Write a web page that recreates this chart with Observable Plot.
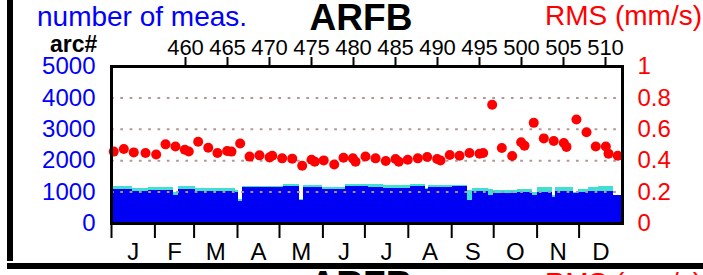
<!DOCTYPE html>
<html><head><meta charset="utf-8">
<script src="https://cdn.jsdelivr.net/npm/d3@7"></script>
<script src="https://cdn.jsdelivr.net/npm/@observablehq/plot@0.6"></script>
<style>
html,body{margin:0;padding:0;background:#fff;overflow:hidden}
#wrap{position:relative;width:703px;height:275px;overflow:hidden}
#wrap svg{position:absolute;left:0;top:0}
.bar{position:absolute;background:#000}
</style></head><body><div id="wrap"></div>
<script>
// ---- data ----
const monthLabels = ["J","F","M","A","M","J","J","A","S","O","N","D"];
const monthStarts = [0,31,59,90,120,151,181,212,243,273,304,334];
const yearDays = 365;

const arcTicks = [460,465,470,475,480,485,490,495,500,505,510];
const arcRefNumber = 460;
const arcRefDay = 52.86;
const daysPerArc = 6.0;

const countTicks = [0,1000,2000,3000,4000,5000];
const rmsTicks = [0,0.2,0.4,0.6,0.8,1];
const rmsGrid = [0.2,0.4,0.6,0.8];

// bar segments (day of year start), used count (blue), total count (turquoise)
const segStart = [0,14.8,26.6,44.5,47.6,60,88.6,90.9,93.4,123.1,134.5,137.4,150.5,167.1,183.8,194.5,213.6,224.3,226.6,243.4,254.1,257.6,269.5,273.1,289.8,300.5,304.1,314.8,317.1,330.2,333.8,340.9,348.1,358.8];
const usedCount = [1077,1013,1054,907,1077,1022,990,716,1131,1173,748,1150,1067,1173,1150,1118,1173,1067,1141,1173,725,1013,885,971,990,885,990,831,1013,971,990,1013,1013,885];
const totalCount = [1173,1118,1131,990,1173,1099,1045,750,1173,1227,780,1204,1141,1227,1227,1204,1246,1100,1204,1204,1045,1099,1077,1054,1077,990,1131,900,1141,1000,1077,1141,1182,907];

// RMS per arc
const rmsDay = [1.6,8.8,15.9,24.3,31.9,38.6,45.7,52.4,55.2,61.9,69.1,75.7,82.6,85.7,91.9,98.6,105.7,112.9,114.8,121.9,129.1,136.2,142.9,145.2,151.6,159.1,165.7,172.4,174.3,181.4,188.6,195.9,202.9,205.2,211.6,218.8,225.5,232.6,235.0,241.6,248.6,255.7,262.9,265.5,271.9,278.8,286.2,292.6,295.0,301.6,308.8,315.9,323.1,325.0,332.1,339.3,345.9,353.1,355.0,361.6];
const rmsValue = [0.458,0.475,0.453,0.449,0.440,0.504,0.491,0.470,0.459,0.521,0.483,0.449,0.462,0.458,0.509,0.426,0.434,0.421,0.432,0.415,0.413,0.368,0.406,0.394,0.402,0.376,0.419,0.415,0.394,0.427,0.415,0.398,0.411,0.394,0.406,0.415,0.424,0.411,0.402,0.436,0.432,0.449,0.445,0.449,0.756,0.481,0.430,0.517,0.496,0.641,0.542,0.526,0.513,0.488,0.662,0.581,0.491,0.491,0.445,0.432];

// ---- build ----
const countMax = 5000, rmsMax = 1, k = countMax / rmsMax;
const segs = segStart.map((s, i) => ({start: s, end: i + 1 < segStart.length ? segStart[i + 1] : yearDays, used: usedCount[i], total: totalCount[i]}));
const points = rmsDay.map((d, i) => ({day: d, rms: rmsValue[i]}));
const monthEnds = monthStarts.slice(1).concat([yearDays]);
const monthMids = monthStarts.map((s, i) => (s + monthEnds[i]) / 2);
const arcDays = arcTicks.map(a => arcRefDay + (a - arcRefNumber) * daysPerArc);

const FONT = "'Liberation Sans', Arial, Helvetica, sans-serif";

const chart = Plot.plot({
  width: 703, height: 275,
  marginTop: 66, marginBottom: 52, marginLeft: 111, marginRight: 81,
  style: {fontFamily: FONT, fontSize: "24px", background: "transparent", overflow: "visible"},
  x: {domain: [0, yearDays], label: null},
  y: {domain: [0, countMax], label: null},
  marks: [
    Plot.rect(segs, {x1: "start", x2: "end", y1: 0, y2: "total", fill: "#40e0d0", shapeRendering: "crispEdges"}),
    Plot.rect(segs, {x1: "start", x2: "end", y1: 0, y2: "used", fill: "#0000f5", shapeRendering: "crispEdges"}),
    Plot.ruleY(rmsGrid, {y: d => d * k, stroke: "#b49696", strokeWidth: 2, strokeDasharray: "2.7 6.6"}),
    Plot.dot(points, {x: "day", y: d => d.rms * k, r: 5, fill: "#ff0000", stroke: "none"}),
    Plot.frame({stroke: "#000", strokeWidth: 3}),
    Plot.axisY(countTicks, {anchor: "left", tickSize: 0, tickPadding: 16, fill: "#0000ff", fontSize: 24, label: null,
      tickFormat: d => String(d)}),
    Plot.axisY(rmsTicks.map(v => v * k), {anchor: "right", tickSize: 0, tickPadding: 15, fill: "#ff0000", fontSize: 24, label: null,
      tickFormat: d => String(+(d / k).toFixed(1))}),
    Plot.axisX(monthStarts, {anchor: "bottom", tickSize: 15, strokeWidth: 2, tickFormat: () => "", label: null}),
    Plot.axisX(monthMids, {anchor: "bottom", tickSize: 0, tickPadding: 19, fontSize: 24, fill: "#000", label: null,
      tickFormat: d => monthLabels[monthMids.indexOf(d)]}),
    Plot.axisX(arcDays, {anchor: "top", tickSize: 10, tickPadding: 2, strokeWidth: 2, fontSize: 22, fill: "#000", label: null,
      tickFormat: d => arcTicks[arcDays.indexOf(d)]})
  ]
});

const wrap = document.getElementById("wrap");
wrap.appendChild(chart);

const svg = d3.select(chart);
function label(txt, x, y, opts) {
  svg.append("text").attr("x", x).attr("y", y)
    .attr("font-family", FONT).attr("font-size", opts.size)
    .attr("font-weight", opts.bold ? "bold" : "normal")
    .attr("fill", opts.fill || "#000")
    .attr("text-anchor", opts.anchor || "start")
    .text(txt);
}
label("number of meas.", 37, 26, {size: 28, fill: "#0000ff"});
label("ARFB", 361, 30, {size: 37, bold: true, anchor: "middle"});
label("RMS (mm/s)", 702, 25, {size: 28, fill: "#ff0000", anchor: "end"});
label("arc#", 50, 52, {size: 23, bold: true});
// start of next panel (cut off at bottom)
label("ARFB", 361, 297, {size: 37, bold: true, anchor: "middle"});
label("RMS (mm/s)", 702, 292, {size: 28, fill: "#ff0000", anchor: "end"});

// panel borders
const v = document.createElement("div"); v.className = "bar";
Object.assign(v.style, {left: "7px", top: "0px", width: "5.5px", height: "261px"});
const h = document.createElement("div"); h.className = "bar";
Object.assign(h.style, {left: "7px", top: "263px", width: "696px", height: "6px"});
wrap.appendChild(v); wrap.appendChild(h);
</script></body></html>
